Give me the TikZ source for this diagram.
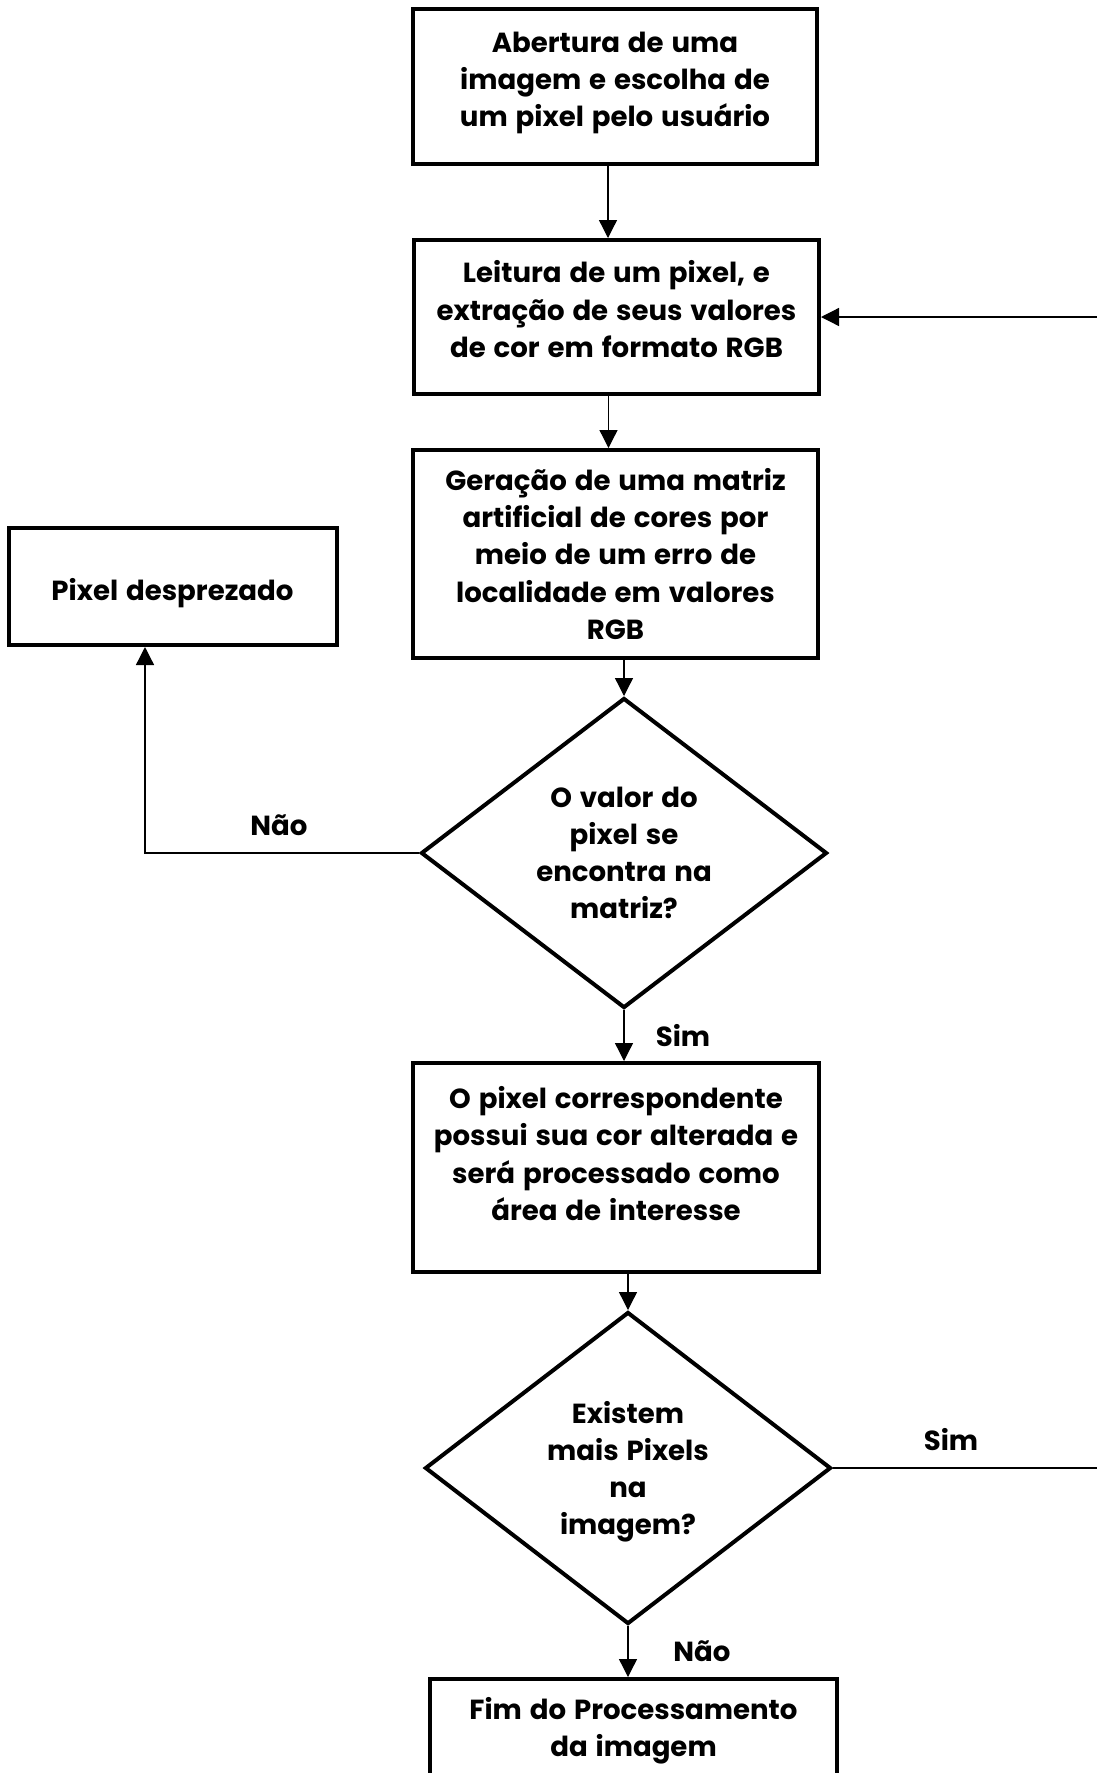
\documentclass[tikz,border=0pt]{standalone}
\usepackage{fontspec}
\setmainfont{Poppins}[WordSpace=1.35]
\usetikzlibrary{shapes.geometric,arrows.meta,positioning,calc}
\newcommand{\fonteflux}{\bfseries\fontsize{13.8pt}{18.6pt}\selectfont}

\begin{document}
\begin{tikzpicture}[x=0.5pt, y=-0.5pt, every text node part/.style={align=center},
    caixa/.style={draw, rectangle, line width=2pt, inner sep=0pt, font=\fonteflux},
    decisao/.style={draw, diamond, aspect=1.32, line width=2pt, inner sep=0pt, minimum width=203pt, minimum height=155pt, font=\fonteflux},
    seta/.style={-{Triangle[length=9pt,width=9pt]}, line width=0.65pt},
    rotulo/.style={font=\fonteflux}]
    \useasboundingbox [fill=white] (0,0) rectangle (1097,1773);

    \node [caixa, minimum width=202pt, minimum height=77.5pt, text depth=7pt] (abertura) at (615,86.5) {Abertura de uma\\imagem e escolha de\\um pixel pelo usuário};
    \node [caixa, minimum width=202.5pt, minimum height=77pt, text depth=8pt] (leitura) at (616.5,317) {Leitura de um pixel, e\\extração de seus valores\\de cor em formato RGB};
    \node [caixa, minimum width=202.5pt, minimum height=104pt] (geracao) at (615.5,554) {Geração de uma matriz\\artificial de cores por\\meio de um erro de\\localidade em valores\\RGB};
    \node [caixa, minimum width=164pt, minimum height=58.5pt, text height=18pt] (desprezado) at (172.5,586.5) {Pixel desprezado};
    \node [decisao] (matriz) at (624,853) {O valor do\\pixel se\\encontra na\\matriz?};
    \node [caixa, minimum width=203pt, minimum height=104.5pt, text depth=14pt] (processa) at (616,1167.5) {O pixel correspondente\\possui sua cor alterada e\\será processado como\\área de interesse};
    \node [decisao, minimum height=156pt, text depth=0pt] (existem) at (628,1468) {Existem\\mais Pixels\\na\\imagem?};
    \node [caixa, minimum width=203.5pt, minimum height=52pt] (fim) at (633.5,1731) {Fim do Processamento\\da imagem};

    \node [rotulo] (nao1) at (279,825) {Não};
    \node [rotulo] (sim1) at (683,1036) {Sim};
    \node [rotulo] (sim2) at (951,1440) {Sim};
    \node [rotulo] (nao2) at (702,1651) {Não};

    \draw [seta] ([xshift=-3.5pt]abertura.south) -- ([xshift=-3.5pt]abertura.south |- leitura.north);
    \draw [seta] ([xshift=-4pt]leitura.south) -- ([xshift=-4pt]leitura.south |- geracao.north);
    \draw [seta] (matriz.north |- geracao.south) -- (matriz.north);
    \draw [seta] (matriz.west) -| ([xshift=-13.75pt]desprezado.south);
    \draw [seta] (matriz.south) -- (matriz.south |- processa.north);
    \draw [seta] (existem.north |- processa.south) -- (existem.north);
    \draw [seta] (existem.south) -- (existem.south |- fim.north);
    \coordinate (volta) at (1120,0);
    \draw [seta] (existem.east) -- (existem.east -| volta) |- (leitura.east);
\end{tikzpicture}
\end{document}
